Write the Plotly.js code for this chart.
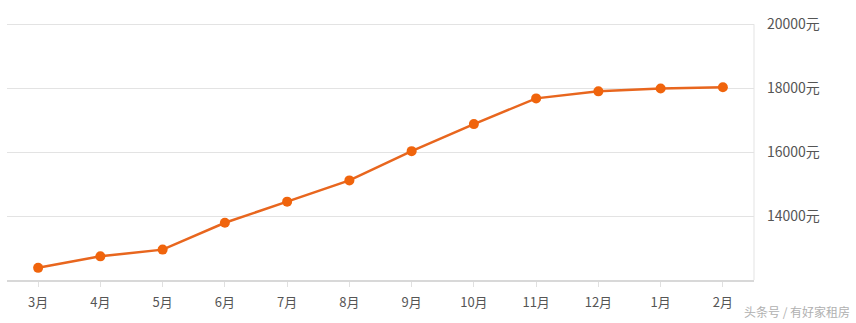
<!DOCTYPE html>
<html>
<head>
<meta charset="utf-8">
<script src="https://cdn.plot.ly/plotly-3.0.1.min.js"></script>
<style>html,body{margin:0;padding:0;background:#fff;}#chart{width:856px;height:323px;}</style>
</head>
<body>
<div id="chart"></div>
<script>
const months = ["3月","4月","5月","6月","7月","8月","9月","10月","11月","12月","1月","2月"];
const prices = [12380, 12740, 12950, 13790, 14450, 15115, 16030, 16875, 17680, 17900, 17990, 18030];
const yTicks = [14000, 16000, 18000, 20000];
const yTickText = ["14000元", "16000元", "18000元", "20000元"];

const font = "'Noto Sans CJK SC', 'Microsoft YaHei', sans-serif";

Plotly.newPlot("chart", [{
  x: months,
  y: prices,
  type: "scatter",
  mode: "lines+markers",
  line: {color: "#e8661e", width: 2.5},
  marker: {color: "#f0640c", size: 10},
  hoverinfo: "x+y"
}], {
  width: 856, height: 323,
  margin: {l: 7, r: 102, t: 21, b: 43},
  paper_bgcolor: "#fff",
  plot_bgcolor: "#fff",
  showlegend: false,
  font: {family: font, color: "#555", size: 12},
  xaxis: {
    type: "category",
    range: [-0.5, 11.5],
    showgrid: false,
    zeroline: false,
    showline: true,
    linecolor: "#d8d8d8",
    linewidth: 2,
    ticks: "outside",
    ticklen: 5,
    tickcolor: "#e0e0e0",
    ticklabelstandoff: 4,
    tickfont: {family: font, size: 13, color: "#555"},
    fixedrange: true
  },
  yaxis: {
    side: "right",
    range: [12000, 20100],
    tickvals: yTicks,
    ticktext: yTickText,
    showgrid: true,
    gridcolor: "#e3e3e3",
    gridwidth: 1,
    zeroline: false,
    showline: false,
    ticks: "",
    ticklabelstandoff: 12,
    tickfont: {family: font, size: 14, color: "#555"},
    fixedrange: true
  },
  shapes: [{
    type: "line", xref: "paper", yref: "y",
    x0: 1, x1: 1, y0: 12000, y1: 20000,
    line: {color: "#e3e3e3", width: 1}
  }],
  annotations: [{
    text: "头条号 / 有好家租房",
    xref: "paper", yref: "paper",
    x: 1.131, y: -0.12,
    xanchor: "right", yanchor: "middle",
    showarrow: false,
    font: {family: font, size: 12, color: "#b0b0b0"}
  }]
}, {displayModeBar: false, staticPlot: true});
</script>
</body>
</html>
